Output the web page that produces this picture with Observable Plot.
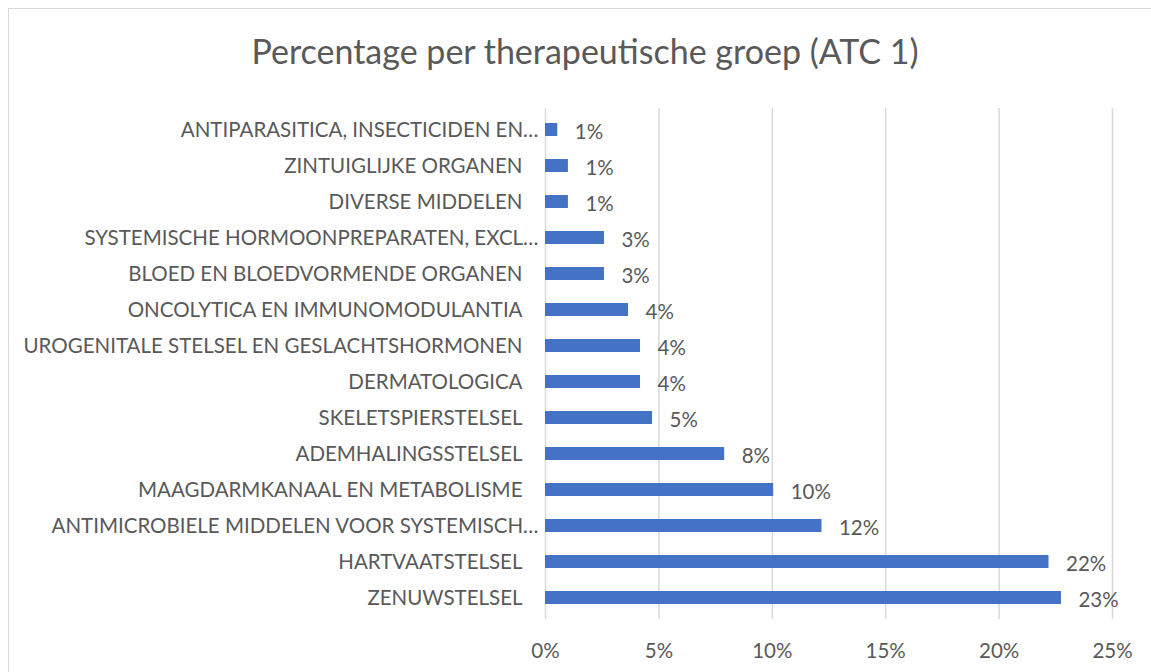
<!DOCTYPE html>
<html>
<head>
<meta charset="utf-8">
<script src="https://cdn.jsdelivr.net/npm/d3@7"></script>
<script src="https://cdn.jsdelivr.net/npm/@observablehq/plot@0.6"></script>
<style>
  html, body { margin: 0; padding: 0; background: #fff; overflow: hidden; }
  #frame { position: absolute; left: 8px; top: 8px; width: 1160px; height: 700px;
           border-left: 1.5px solid #d9d9d9; border-top: 1.5px solid #d9d9d9; }
  #title { position: absolute; left: 0; top: 0; width: 1170px; height: 100px;
           font-family: Lato, "Open Sans", sans-serif; font-size: 34px; color: #595959;
           text-align: center; line-height: 102px; }
  #chart { position: absolute; left: 0; top: 100px; }
</style>
</head>
<body>
<div id="frame"></div>
<div id="title">Percentage per therapeutische groep (ATC 1)</div>
<div id="chart"></div>
<script>
const categories = [
  "ANTIPARASITICA, INSECTICIDEN EN…",
  "ZINTUIGLIJKE ORGANEN",
  "DIVERSE MIDDELEN",
  "SYSTEMISCHE HORMOONPREPARATEN, EXCL…",
  "BLOED EN BLOEDVORMENDE ORGANEN",
  "ONCOLYTICA EN IMMUNOMODULANTIA",
  "UROGENITALE STELSEL EN GESLACHTSHORMONEN",
  "DERMATOLOGICA",
  "SKELETSPIERSTELSEL",
  "ADEMHALINGSSTELSEL",
  "MAAGDARMKANAAL EN METABOLISME",
  "ANTIMICROBIELE MIDDELEN VOOR SYSTEMISCH…",
  "HARTVAATSTELSEL",
  "ZENUWSTELSEL"
];
const values = [0.54, 1.01, 1.01, 2.6, 2.6, 3.66, 4.19, 4.19, 4.72, 7.9, 10.06, 12.19, 22.2, 22.75];
const xTicks = [0, 5, 10, 15, 20, 25];

const data = categories.map((c, i) => ({cat: c, value: values[i], trunc: c.endsWith("…")}));
const font = "Lato, 'Open Sans', sans-serif";
const grey = "#595959";
const fs = 20.5;

const plot = Plot.plot({
  width: 1151,
  height: 572,
  marginLeft: 545,
  marginRight: 39,
  marginTop: 8,
  marginBottom: 53,
  style: {fontFamily: font, fontSize: fs + "px", color: grey, background: "transparent"},
  x: {domain: [0, 25], ticks: xTicks, tickFormat: d => d + "%", label: null},
  y: {domain: categories, paddingInner: 0.64, paddingOuter: 0.32, label: null, axis: null},
  marks: [
    Plot.gridX(xTicks, {stroke: "#d9d9d9", strokeOpacity: 1, strokeWidth: 1.5}),
    Plot.axisX(xTicks, {tickSize: 0, tickPadding: 24, fontSize: fs, fill: grey, tickFormat: d => d + "%", label: null}),
    Plot.barX(data, {x: "value", y: "cat", fill: "#4472C4"}),
    Plot.text(data.filter(d => !d.trunc), {x: 0, y: "cat", text: "cat", textAnchor: "end", dx: -23, fontSize: fs, fill: grey}),
    Plot.text(data.filter(d => d.trunc), {x: 0, y: "cat", text: "cat", textAnchor: "end", dx: -7, fontSize: fs, fill: grey}),
    Plot.text(data, {x: "value", y: "cat", text: d => Math.round(d.value) + "%", textAnchor: "start", dx: 17, dy: 2, fontSize: fs, fill: grey})
  ]
});
document.getElementById("chart").appendChild(plot);
</script>
</body>
</html>
